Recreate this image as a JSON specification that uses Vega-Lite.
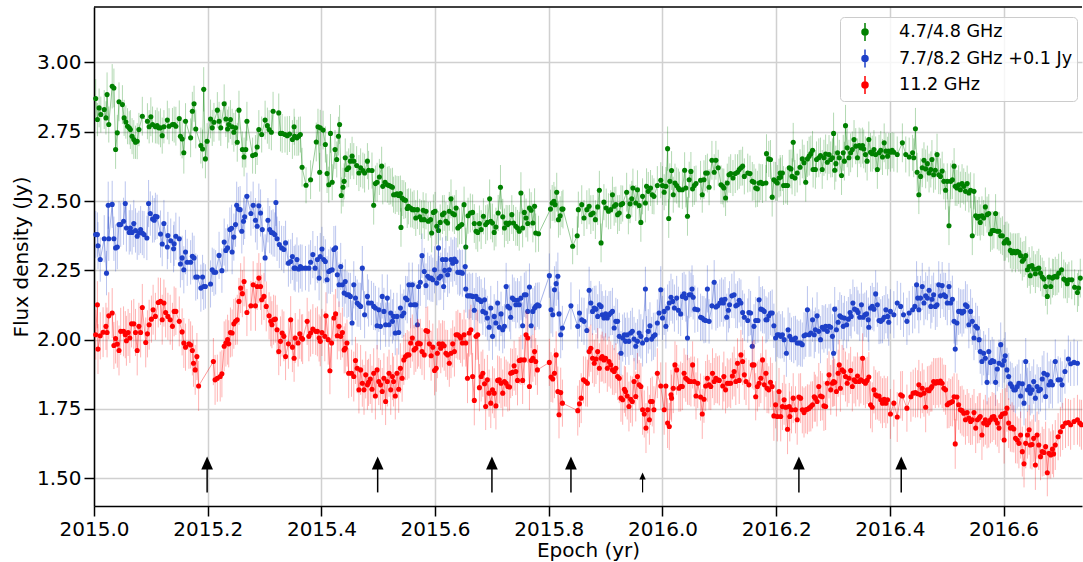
{
"$schema":"https://vega.github.io/schema/vega-lite/v6.json",
"width":988,"height":499,
"autosize":{"type":"none"},
"padding":{"left":94,"top":7,"right":1,"bottom":56},
"background":"white",
"config":{
 "font":"DejaVu Sans",
 "view":{"stroke":null},
 "axis":{"labelFont":"DejaVu Sans","titleFont":"DejaVu Sans","labelFontSize":20,"titleFontSize":20,"titleFontWeight":"normal","labelColor":"black","titleColor":"black","tickColor":"black","domainColor":"black","tickSize":10,"tickWidth":1.5,"domainWidth":1.5,"gridColor":"#d0d0d0","gridWidth":1.5,"labelPadding":3,"labelFlush":false,"labelOverlap":false}
},
"datasets":{
"g":[{"t":2015.003,"y":2.87,"e":0.07},{"t":2015.006,"y":2.794,"e":0.06},{"t":2015.009,"y":2.836,"e":0.07},{"t":2015.012,"y":2.812,"e":0.065},{"t":2015.018,"y":2.83,"e":0.07},{"t":2015.021,"y":2.8,"e":0.06},{"t":2015.023,"y":2.884,"e":0.08},{"t":2015.026,"y":2.776,"e":0.065},{"t":2015.032,"y":2.914,"e":0.08},{"t":2015.035,"y":2.908,"e":0.07},{"t":2015.038,"y":2.686,"e":0.07},{"t":2015.041,"y":2.746,"e":0.065},{"t":2015.044,"y":2.858,"e":0.07},{"t":2015.05,"y":2.848,"e":0.07},{"t":2015.053,"y":2.8,"e":0.065},{"t":2015.056,"y":2.785,"e":0.06},{"t":2015.059,"y":2.77,"e":0.065},{"t":2015.062,"y":2.764,"e":0.06},{"t":2015.064,"y":2.758,"e":0.07},{"t":2015.067,"y":2.734,"e":0.065},{"t":2015.07,"y":2.722,"e":0.07},{"t":2015.073,"y":2.712,"e":0.06},{"t":2015.076,"y":2.716,"e":0.065},{"t":2015.079,"y":2.758,"e":0.06},{"t":2015.085,"y":2.806,"e":0.07},{"t":2015.094,"y":2.788,"e":0.065},{"t":2015.097,"y":2.768,"e":0.06},{"t":2015.1,"y":2.804,"e":0.07},{"t":2015.103,"y":2.776,"e":0.065},{"t":2015.108,"y":2.768,"e":0.06},{"t":2015.111,"y":2.772,"e":0.065},{"t":2015.114,"y":2.764,"e":0.06},{"t":2015.117,"y":2.764,"e":0.07},{"t":2015.12,"y":2.736,"e":0.065},{"t":2015.123,"y":2.768,"e":0.06},{"t":2015.129,"y":2.792,"e":0.07},{"t":2015.132,"y":2.77,"e":0.065},{"t":2015.138,"y":2.776,"e":0.06},{"t":2015.141,"y":2.776,"e":0.065},{"t":2015.144,"y":2.77,"e":0.07},{"t":2015.15,"y":2.798,"e":0.065},{"t":2015.152,"y":2.734,"e":0.07},{"t":2015.155,"y":2.724,"e":0.07},{"t":2015.158,"y":2.674,"e":0.075},{"t":2015.161,"y":2.788,"e":0.065},{"t":2015.17,"y":2.728,"e":0.07},{"t":2015.173,"y":2.824,"e":0.07},{"t":2015.176,"y":2.851,"e":0.065},{"t":2015.179,"y":2.76,"e":0.07},{"t":2015.188,"y":2.7,"e":0.065},{"t":2015.191,"y":2.688,"e":0.07},{"t":2015.193,"y":2.903,"e":0.08},{"t":2015.196,"y":2.652,"e":0.07},{"t":2015.199,"y":2.716,"e":0.065},{"t":2015.205,"y":2.796,"e":0.07},{"t":2015.208,"y":2.764,"e":0.065},{"t":2015.211,"y":2.784,"e":0.07},{"t":2015.217,"y":2.828,"e":0.065},{"t":2015.22,"y":2.788,"e":0.07},{"t":2015.223,"y":2.764,"e":0.065},{"t":2015.229,"y":2.851,"e":0.07},{"t":2015.232,"y":2.796,"e":0.065},{"t":2015.235,"y":2.76,"e":0.07},{"t":2015.237,"y":2.776,"e":0.065},{"t":2015.24,"y":2.794,"e":0.07},{"t":2015.243,"y":2.768,"e":0.065},{"t":2015.246,"y":2.748,"e":0.07},{"t":2015.249,"y":2.764,"e":0.065},{"t":2015.252,"y":2.712,"e":0.07},{"t":2015.255,"y":2.828,"e":0.07},{"t":2015.261,"y":2.686,"e":0.065},{"t":2015.264,"y":2.659,"e":0.07},{"t":2015.267,"y":2.686,"e":0.065},{"t":2015.269,"y":2.788,"e":0.07},{"t":2015.279,"y":2.664,"e":0.065},{"t":2015.284,"y":2.668,"e":0.07},{"t":2015.287,"y":2.695,"e":0.065},
{"t":2015.29,"y":2.758,"e":0.07},{"t":2015.295,"y":2.74,"e":0.065},{"t":2015.301,"y":2.792,"e":0.07},{"t":2015.305,"y":2.772,"e":0.065},{"t":2015.308,"y":2.758,"e":0.07},{"t":2015.312,"y":2.748,"e":0.065},{"t":2015.315,"y":2.824,"e":0.07},{"t":2015.325,"y":2.818,"e":0.07},{"t":2015.328,"y":2.744,"e":0.065},{"t":2015.331,"y":2.744,"e":0.07},{"t":2015.336,"y":2.74,"e":0.065},{"t":2015.34,"y":2.736,"e":0.07},{"t":2015.344,"y":2.742,"e":0.065},{"t":2015.349,"y":2.722,"e":0.07},{"t":2015.352,"y":2.768,"e":0.065},{"t":2015.353,"y":2.734,"e":0.07},{"t":2015.357,"y":2.728,"e":0.065},{"t":2015.36,"y":2.734,"e":0.07},{"t":2015.363,"y":2.74,"e":0.065},{"t":2015.366,"y":2.622,"e":0.07},{"t":2015.373,"y":2.557,"e":0.065},{"t":2015.381,"y":2.577,"e":0.07},{"t":2015.391,"y":2.713,"e":0.07},{"t":2015.394,"y":2.768,"e":0.065},{"t":2015.397,"y":2.604,"e":0.07},{"t":2015.398,"y":2.764,"e":0.065},{"t":2015.403,"y":2.756,"e":0.07},{"t":2015.407,"y":2.704,"e":0.065},{"t":2015.41,"y":2.599,"e":0.07},{"t":2015.413,"y":2.559,"e":0.065},{"t":2015.416,"y":2.744,"e":0.07},{"t":2015.419,"y":2.568,"e":0.065},{"t":2015.424,"y":2.686,"e":0.07},{"t":2015.427,"y":2.65,"e":0.065},{"t":2015.43,"y":2.734,"e":0.07},{"t":2015.432,"y":2.776,"e":0.07},{"t":2015.435,"y":2.52,"e":0.065},{"t":2015.438,"y":2.55,"e":0.07},{"t":2015.44,"y":2.571,"e":0.065},{"t":2015.442,"y":2.656,"e":0.07},{"t":2015.445,"y":2.614,"e":0.065},{"t":2015.448,"y":2.62,"e":0.07},{"t":2015.451,"y":2.644,"e":0.065},{"t":2015.454,"y":2.662,"e":0.07},{"t":2015.457,"y":2.644,"e":0.065},{"t":2015.462,"y":2.628,"e":0.07},{"t":2015.466,"y":2.601,"e":0.065},{"t":2015.469,"y":2.62,"e":0.07},{"t":2015.473,"y":2.61,"e":0.065},{"t":2015.476,"y":2.601,"e":0.07},{"t":2015.481,"y":2.644,"e":0.065},{"t":2015.483,"y":2.611,"e":0.07},{"t":2015.489,"y":2.61,"e":0.065},{"t":2015.492,"y":2.485,"e":0.07},{"t":2015.495,"y":2.563,"e":0.065},{"t":2015.498,"y":2.568,"e":0.07},{"t":2015.502,"y":2.587,"e":0.065},{"t":2015.506,"y":2.626,"e":0.07},{"t":2015.508,"y":2.553,"e":0.065},{"t":2015.512,"y":2.568,"e":0.07},{"t":2015.516,"y":2.559,"e":0.065},{"t":2015.519,"y":2.556,"e":0.07},{"t":2015.522,"y":2.553,"e":0.065},{"t":2015.525,"y":2.55,"e":0.07},{"t":2015.527,"y":2.523,"e":0.065},{"t":2015.53,"y":2.523,"e":0.07},{"t":2015.533,"y":2.526,"e":0.065},{"t":2015.536,"y":2.52,"e":0.07},{"t":2015.539,"y":2.527,"e":0.065},{"t":2015.54,"y":2.405,"e":0.07},{"t":2015.542,"y":2.511,"e":0.065},{"t":2015.545,"y":2.505,"e":0.07},{"t":2015.548,"y":2.503,"e":0.065},{"t":2015.551,"y":2.473,"e":0.07},{"t":2015.553,"y":2.481,"e":0.065},{"t":2015.557,"y":2.475,"e":0.07},{"t":2015.56,"y":2.469,"e":0.065},{"t":2015.563,"y":2.469,"e":0.07},{"t":2015.566,"y":2.439,"e":0.065},{"t":2015.569,"y":2.469,"e":0.07},{"t":2015.573,"y":2.443,"e":0.065},{"t":2015.576,"y":2.433,"e":0.07},{"t":2015.579,"y":2.467,"e":0.065},
{"t":2015.581,"y":2.433,"e":0.07},{"t":2015.584,"y":2.463,"e":0.065},{"t":2015.588,"y":2.427,"e":0.07},{"t":2015.592,"y":2.433,"e":0.065},{"t":2015.594,"y":2.385,"e":0.07},{"t":2015.597,"y":2.459,"e":0.065},{"t":2015.6,"y":2.463,"e":0.07},{"t":2015.603,"y":2.409,"e":0.065},{"t":2015.606,"y":2.394,"e":0.07},{"t":2015.609,"y":2.423,"e":0.065},{"t":2015.613,"y":2.451,"e":0.07},{"t":2015.616,"y":2.457,"e":0.065},{"t":2015.619,"y":2.427,"e":0.07},{"t":2015.622,"y":2.421,"e":0.065},{"t":2015.625,"y":2.463,"e":0.07},{"t":2015.628,"y":2.508,"e":0.07},{"t":2015.631,"y":2.455,"e":0.065},{"t":2015.634,"y":2.451,"e":0.07},{"t":2015.637,"y":2.475,"e":0.065},{"t":2015.64,"y":2.403,"e":0.07},{"t":2015.643,"y":2.409,"e":0.065},{"t":2015.647,"y":2.415,"e":0.07},{"t":2015.651,"y":2.487,"e":0.065},{"t":2015.654,"y":2.334,"e":0.07},{"t":2015.658,"y":2.447,"e":0.065},{"t":2015.662,"y":2.457,"e":0.07},{"t":2015.666,"y":2.459,"e":0.065},{"t":2015.669,"y":2.419,"e":0.07},{"t":2015.672,"y":2.391,"e":0.065},{"t":2015.675,"y":2.387,"e":0.07},{"t":2015.678,"y":2.419,"e":0.065},{"t":2015.681,"y":2.397,"e":0.07},{"t":2015.685,"y":2.445,"e":0.065},{"t":2015.689,"y":2.415,"e":0.07},{"t":2015.692,"y":2.423,"e":0.065},{"t":2015.696,"y":2.508,"e":0.07},{"t":2015.698,"y":2.427,"e":0.065},{"t":2015.701,"y":2.421,"e":0.07},{"t":2015.704,"y":2.387,"e":0.065},{"t":2015.707,"y":2.406,"e":0.07},{"t":2015.711,"y":2.457,"e":0.065},{"t":2015.715,"y":2.55,"e":0.08},{"t":2015.719,"y":2.443,"e":0.065},{"t":2015.722,"y":2.403,"e":0.07},{"t":2015.725,"y":2.421,"e":0.065},{"t":2015.728,"y":2.415,"e":0.07},{"t":2015.731,"y":2.421,"e":0.065},{"t":2015.735,"y":2.451,"e":0.07},{"t":2015.738,"y":2.421,"e":0.065},{"t":2015.742,"y":2.409,"e":0.07},{"t":2015.745,"y":2.403,"e":0.065},{"t":2015.748,"y":2.391,"e":0.07},{"t":2015.751,"y":2.529,"e":0.075},{"t":2015.754,"y":2.403,"e":0.07},{"t":2015.757,"y":2.459,"e":0.065},{"t":2015.76,"y":2.439,"e":0.07},{"t":2015.763,"y":2.419,"e":0.065},{"t":2015.766,"y":2.475,"e":0.07},{"t":2015.769,"y":2.467,"e":0.065},{"t":2015.772,"y":2.421,"e":0.07},{"t":2015.775,"y":2.481,"e":0.065},{"t":2015.777,"y":2.385,"e":0.07},{"t":2015.782,"y":2.382,"e":0.065},{"t":2015.803,"y":2.471,"e":0.07},{"t":2015.806,"y":2.493,"e":0.065},{"t":2015.809,"y":2.499,"e":0.07},{"t":2015.811,"y":2.487,"e":0.065},{"t":2015.814,"y":2.532,"e":0.07},{"t":2015.817,"y":2.433,"e":0.065},{"t":2015.82,"y":2.447,"e":0.07},{"t":2015.823,"y":2.471,"e":0.065},{"t":2015.825,"y":2.471,"e":0.07},{"t":2015.842,"y":2.337,"e":0.065},{"t":2015.85,"y":2.375,"e":0.07},{"t":2015.852,"y":2.469,"e":0.065},{"t":2015.858,"y":2.487,"e":0.07},{"t":2015.862,"y":2.439,"e":0.065},{"t":2015.867,"y":2.469,"e":0.07},
{"t":2015.871,"y":2.481,"e":0.065},{"t":2015.874,"y":2.451,"e":0.07},{"t":2015.878,"y":2.457,"e":0.065},{"t":2015.882,"y":2.433,"e":0.07},{"t":2015.886,"y":2.479,"e":0.065},{"t":2015.889,"y":2.539,"e":0.07},{"t":2015.892,"y":2.349,"e":0.07},{"t":2015.897,"y":2.496,"e":0.065},{"t":2015.901,"y":2.475,"e":0.07},{"t":2015.905,"y":2.463,"e":0.065},{"t":2015.909,"y":2.469,"e":0.07},{"t":2015.912,"y":2.523,"e":0.065},{"t":2015.915,"y":2.481,"e":0.07},{"t":2015.918,"y":2.487,"e":0.065},{"t":2015.921,"y":2.451,"e":0.07},{"t":2015.924,"y":2.457,"e":0.065},{"t":2015.927,"y":2.487,"e":0.07},{"t":2015.93,"y":2.491,"e":0.065},{"t":2015.937,"y":2.532,"e":0.07},{"t":2015.94,"y":2.445,"e":0.065},{"t":2015.943,"y":2.49,"e":0.07},{"t":2015.946,"y":2.508,"e":0.065},{"t":2015.948,"y":2.547,"e":0.07},{"t":2015.953,"y":2.493,"e":0.065},{"t":2015.956,"y":2.541,"e":0.07},{"t":2015.959,"y":2.484,"e":0.065},{"t":2015.962,"y":2.423,"e":0.07},{"t":2015.965,"y":2.517,"e":0.065},{"t":2015.97,"y":2.493,"e":0.07},{"t":2015.972,"y":2.553,"e":0.065},{"t":2015.975,"y":2.535,"e":0.07},{"t":2015.979,"y":2.547,"e":0.065},{"t":2015.982,"y":2.523,"e":0.07},{"t":2015.985,"y":2.517,"e":0.065},{"t":2015.991,"y":2.556,"e":0.07},{"t":2015.997,"y":2.575,"e":0.065},{"t":2016.0,"y":2.556,"e":0.07},{"t":2016.003,"y":2.532,"e":0.065},{"t":2016.006,"y":2.553,"e":0.07},{"t":2016.009,"y":2.689,"e":0.08},{"t":2016.011,"y":2.437,"e":0.07},{"t":2016.013,"y":2.571,"e":0.065},{"t":2016.016,"y":2.61,"e":0.07},{"t":2016.019,"y":2.523,"e":0.065},{"t":2016.022,"y":2.565,"e":0.07},{"t":2016.025,"y":2.556,"e":0.065},{"t":2016.028,"y":2.547,"e":0.07},{"t":2016.03,"y":2.541,"e":0.065},{"t":2016.035,"y":2.541,"e":0.07},{"t":2016.039,"y":2.611,"e":0.065},{"t":2016.041,"y":2.547,"e":0.07},{"t":2016.044,"y":2.445,"e":0.07},{"t":2016.047,"y":2.577,"e":0.065},{"t":2016.05,"y":2.607,"e":0.07},{"t":2016.053,"y":2.544,"e":0.065},{"t":2016.056,"y":2.556,"e":0.07},{"t":2016.059,"y":2.563,"e":0.065},{"t":2016.067,"y":2.575,"e":0.07},{"t":2016.07,"y":2.523,"e":0.065},{"t":2016.073,"y":2.577,"e":0.07},{"t":2016.076,"y":2.601,"e":0.065},{"t":2016.079,"y":2.601,"e":0.07},{"t":2016.082,"y":2.55,"e":0.065},{"t":2016.087,"y":2.647,"e":0.07},{"t":2016.091,"y":2.604,"e":0.065},{"t":2016.094,"y":2.647,"e":0.07},{"t":2016.098,"y":2.62,"e":0.065},{"t":2016.103,"y":2.559,"e":0.07},{"t":2016.106,"y":2.553,"e":0.065},{"t":2016.108,"y":2.547,"e":0.07},{"t":2016.111,"y":2.511,"e":0.065},{"t":2016.114,"y":2.565,"e":0.07},{"t":2016.117,"y":2.595,"e":0.065},{"t":2016.12,"y":2.599,"e":0.07},{"t":2016.124,"y":2.583,"e":0.065},{"t":2016.128,"y":2.599,"e":0.07},{"t":2016.132,"y":2.604,"e":0.065},{"t":2016.135,"y":2.614,"e":0.07},{"t":2016.138,"y":2.62,"e":0.065},{"t":2016.141,"y":2.626,"e":0.07},{"t":2016.144,"y":2.589,"e":0.065},{"t":2016.15,"y":2.601,"e":0.07},{"t":2016.154,"y":2.599,"e":0.065},{"t":2016.158,"y":2.571,"e":0.07},
{"t":2016.161,"y":2.568,"e":0.065},{"t":2016.164,"y":2.547,"e":0.07},{"t":2016.167,"y":2.544,"e":0.065},{"t":2016.17,"y":2.565,"e":0.07},{"t":2016.173,"y":2.568,"e":0.065},{"t":2016.176,"y":2.563,"e":0.07},{"t":2016.182,"y":2.565,"e":0.065},{"t":2016.183,"y":2.671,"e":0.07},{"t":2016.187,"y":2.652,"e":0.065},{"t":2016.19,"y":2.65,"e":0.07},{"t":2016.193,"y":2.514,"e":0.07},{"t":2016.196,"y":2.577,"e":0.065},{"t":2016.199,"y":2.571,"e":0.07},{"t":2016.202,"y":2.565,"e":0.065},{"t":2016.205,"y":2.583,"e":0.07},{"t":2016.207,"y":2.601,"e":0.065},{"t":2016.208,"y":2.587,"e":0.07},{"t":2016.211,"y":2.601,"e":0.065},{"t":2016.213,"y":2.556,"e":0.07},{"t":2016.217,"y":2.556,"e":0.065},{"t":2016.22,"y":2.556,"e":0.07},{"t":2016.223,"y":2.62,"e":0.065},{"t":2016.226,"y":2.616,"e":0.07},{"t":2016.228,"y":2.589,"e":0.065},{"t":2016.23,"y":2.712,"e":0.07},{"t":2016.233,"y":2.583,"e":0.065},{"t":2016.237,"y":2.601,"e":0.07},{"t":2016.242,"y":2.622,"e":0.065},{"t":2016.246,"y":2.652,"e":0.07},{"t":2016.249,"y":2.638,"e":0.065},{"t":2016.252,"y":2.568,"e":0.07},{"t":2016.255,"y":2.652,"e":0.065},{"t":2016.258,"y":2.662,"e":0.07},{"t":2016.261,"y":2.671,"e":0.065},{"t":2016.264,"y":2.683,"e":0.07},{"t":2016.265,"y":2.614,"e":0.065},{"t":2016.269,"y":2.614,"e":0.07},{"t":2016.271,"y":2.65,"e":0.065},{"t":2016.275,"y":2.656,"e":0.07},{"t":2016.278,"y":2.664,"e":0.065},{"t":2016.281,"y":2.614,"e":0.07},{"t":2016.284,"y":2.656,"e":0.065},{"t":2016.287,"y":2.67,"e":0.07},{"t":2016.29,"y":2.64,"e":0.065},{"t":2016.293,"y":2.668,"e":0.07},{"t":2016.296,"y":2.65,"e":0.065},{"t":2016.299,"y":2.656,"e":0.07},{"t":2016.301,"y":2.744,"e":0.075},{"t":2016.303,"y":2.611,"e":0.07},{"t":2016.305,"y":2.635,"e":0.065},{"t":2016.308,"y":2.674,"e":0.07},{"t":2016.311,"y":2.656,"e":0.065},{"t":2016.315,"y":2.592,"e":0.07},{"t":2016.318,"y":2.674,"e":0.065},{"t":2016.32,"y":2.644,"e":0.07},{"t":2016.322,"y":2.772,"e":0.075},{"t":2016.325,"y":2.692,"e":0.07},{"t":2016.328,"y":2.656,"e":0.065},{"t":2016.331,"y":2.674,"e":0.07},{"t":2016.334,"y":2.686,"e":0.065},{"t":2016.337,"y":2.722,"e":0.07},{"t":2016.34,"y":2.698,"e":0.065},{"t":2016.343,"y":2.656,"e":0.07},{"t":2016.346,"y":2.7,"e":0.065},{"t":2016.349,"y":2.692,"e":0.07},{"t":2016.352,"y":2.7,"e":0.065},{"t":2016.354,"y":2.688,"e":0.07},{"t":2016.357,"y":2.668,"e":0.065},{"t":2016.36,"y":2.644,"e":0.07},{"t":2016.363,"y":2.722,"e":0.065},{"t":2016.366,"y":2.676,"e":0.07},{"t":2016.369,"y":2.671,"e":0.065},{"t":2016.372,"y":2.686,"e":0.07},{"t":2016.375,"y":2.668,"e":0.065},{"t":2016.378,"y":2.614,"e":0.07},{"t":2016.381,"y":2.674,"e":0.065},{"t":2016.384,"y":2.683,"e":0.07},{"t":2016.387,"y":2.659,"e":0.065},{"t":2016.39,"y":2.71,"e":0.07},{"t":2016.393,"y":2.68,"e":0.065},{"t":2016.396,"y":2.662,"e":0.07},{"t":2016.398,"y":2.68,"e":0.065},{"t":2016.401,"y":2.676,"e":0.07},{"t":2016.404,"y":2.683,"e":0.065},{"t":2016.407,"y":2.676,"e":0.07},{"t":2016.413,"y":2.668,"e":0.065},{"t":2016.422,"y":2.71,"e":0.07},{"t":2016.428,"y":2.668,"e":0.065},{"t":2016.434,"y":2.659,"e":0.07},{"t":2016.44,"y":2.674,"e":0.065},{"t":2016.442,"y":2.656,"e":0.07},{"t":2016.445,"y":2.761,"e":0.075},{"t":2016.448,"y":2.604,"e":0.07},
{"t":2016.451,"y":2.523,"e":0.07},{"t":2016.454,"y":2.589,"e":0.065},{"t":2016.457,"y":2.62,"e":0.07},{"t":2016.46,"y":2.647,"e":0.065},{"t":2016.463,"y":2.616,"e":0.07},{"t":2016.466,"y":2.635,"e":0.065},{"t":2016.469,"y":2.601,"e":0.07},{"t":2016.472,"y":2.614,"e":0.065},{"t":2016.474,"y":2.65,"e":0.07},{"t":2016.477,"y":2.595,"e":0.065},{"t":2016.48,"y":2.611,"e":0.07},{"t":2016.483,"y":2.668,"e":0.075},{"t":2016.486,"y":2.595,"e":0.07},{"t":2016.489,"y":2.589,"e":0.065},{"t":2016.492,"y":2.608,"e":0.07},{"t":2016.495,"y":2.571,"e":0.065},{"t":2016.498,"y":2.539,"e":0.07},{"t":2016.501,"y":2.571,"e":0.065},{"t":2016.504,"y":2.411,"e":0.07},{"t":2016.507,"y":2.571,"e":0.065},{"t":2016.51,"y":2.577,"e":0.07},{"t":2016.513,"y":2.626,"e":0.065},{"t":2016.515,"y":2.553,"e":0.07},{"t":2016.518,"y":2.547,"e":0.065},{"t":2016.521,"y":2.559,"e":0.07},{"t":2016.524,"y":2.541,"e":0.065},{"t":2016.527,"y":2.563,"e":0.07},{"t":2016.53,"y":2.553,"e":0.065},{"t":2016.533,"y":2.535,"e":0.07},{"t":2016.536,"y":2.563,"e":0.065},{"t":2016.539,"y":2.529,"e":0.07},{"t":2016.542,"y":2.539,"e":0.065},{"t":2016.545,"y":2.375,"e":0.07},{"t":2016.548,"y":2.535,"e":0.065},{"t":2016.551,"y":2.447,"e":0.07},{"t":2016.554,"y":2.439,"e":0.065},{"t":2016.557,"y":2.445,"e":0.07},{"t":2016.559,"y":2.423,"e":0.065},{"t":2016.562,"y":2.447,"e":0.07},{"t":2016.565,"y":2.439,"e":0.065},{"t":2016.568,"y":2.479,"e":0.07},{"t":2016.571,"y":2.451,"e":0.065},{"t":2016.574,"y":2.455,"e":0.07},{"t":2016.577,"y":2.382,"e":0.065},{"t":2016.58,"y":2.394,"e":0.07},{"t":2016.583,"y":2.394,"e":0.065},{"t":2016.586,"y":2.455,"e":0.07},{"t":2016.589,"y":2.391,"e":0.065},{"t":2016.592,"y":2.391,"e":0.07},{"t":2016.595,"y":2.375,"e":0.065},{"t":2016.598,"y":2.375,"e":0.07},{"t":2016.601,"y":2.349,"e":0.065},{"t":2016.603,"y":2.355,"e":0.07},{"t":2016.606,"y":2.361,"e":0.065},{"t":2016.609,"y":2.349,"e":0.07},{"t":2016.612,"y":2.322,"e":0.065},{"t":2016.615,"y":2.313,"e":0.07},{"t":2016.618,"y":2.319,"e":0.065},{"t":2016.621,"y":2.313,"e":0.07},{"t":2016.624,"y":2.319,"e":0.065},{"t":2016.627,"y":2.315,"e":0.07},{"t":2016.63,"y":2.303,"e":0.065},{"t":2016.633,"y":2.283,"e":0.07},{"t":2016.636,"y":2.291,"e":0.065},{"t":2016.639,"y":2.303,"e":0.07},{"t":2016.642,"y":2.252,"e":0.065},{"t":2016.645,"y":2.264,"e":0.07},{"t":2016.647,"y":2.231,"e":0.065},{"t":2016.65,"y":2.267,"e":0.07},{"t":2016.653,"y":2.255,"e":0.065},{"t":2016.656,"y":2.238,"e":0.07},{"t":2016.659,"y":2.255,"e":0.065},{"t":2016.662,"y":2.258,"e":0.07},{"t":2016.665,"y":2.24,"e":0.065},{"t":2016.668,"y":2.226,"e":0.07},{"t":2016.671,"y":2.219,"e":0.065},{"t":2016.674,"y":2.192,"e":0.07},{"t":2016.677,"y":2.156,"e":0.065},{"t":2016.68,"y":2.226,"e":0.07},{"t":2016.683,"y":2.192,"e":0.065},{"t":2016.686,"y":2.222,"e":0.07},{"t":2016.688,"y":2.226,"e":0.065},{"t":2016.691,"y":2.229,"e":0.07},{"t":2016.694,"y":2.226,"e":0.065},{"t":2016.697,"y":2.24,"e":0.07},{"t":2016.702,"y":2.252,"e":0.065},{"t":2016.706,"y":2.219,"e":0.07},{"t":2016.709,"y":2.214,"e":0.065},{"t":2016.712,"y":2.202,"e":0.07},{"t":2016.715,"y":2.216,"e":0.065},{"t":2016.72,"y":2.216,"e":0.07},{"t":2016.725,"y":2.189,"e":0.065},{"t":2016.73,"y":2.17,"e":0.07},{"t":2016.732,"y":2.186,"e":0.065},{"t":2016.735,"y":2.222,"e":0.07}],
"b":[{"t":2015.003,"y":2.379,"e":0.085},{"t":2015.006,"y":2.379,"e":0.08},{"t":2015.007,"y":2.339,"e":0.085},{"t":2015.011,"y":2.289,"e":0.08},{"t":2015.018,"y":2.364,"e":0.085},{"t":2015.022,"y":2.24,"e":0.08},{"t":2015.025,"y":2.485,"e":0.085},{"t":2015.026,"y":2.364,"e":0.08},{"t":2015.032,"y":2.488,"e":0.085},{"t":2015.035,"y":2.364,"e":0.08},{"t":2015.038,"y":2.331,"e":0.085},{"t":2015.041,"y":2.334,"e":0.08},{"t":2015.044,"y":2.415,"e":0.085},{"t":2015.047,"y":2.415,"e":0.08},{"t":2015.052,"y":2.427,"e":0.085},{"t":2015.055,"y":2.491,"e":0.08},{"t":2015.057,"y":2.403,"e":0.085},{"t":2015.062,"y":2.387,"e":0.08},{"t":2015.064,"y":2.403,"e":0.085},{"t":2015.067,"y":2.387,"e":0.08},{"t":2015.07,"y":2.419,"e":0.085},{"t":2015.073,"y":2.394,"e":0.08},{"t":2015.076,"y":2.373,"e":0.085},{"t":2015.079,"y":2.385,"e":0.08},{"t":2015.082,"y":2.397,"e":0.085},{"t":2015.085,"y":2.385,"e":0.08},{"t":2015.088,"y":2.379,"e":0.085},{"t":2015.093,"y":2.367,"e":0.08},{"t":2015.096,"y":2.491,"e":0.085},{"t":2015.099,"y":2.455,"e":0.08},{"t":2015.103,"y":2.435,"e":0.085},{"t":2015.106,"y":2.431,"e":0.08},{"t":2015.108,"y":2.445,"e":0.085},{"t":2015.111,"y":2.443,"e":0.08},{"t":2015.117,"y":2.381,"e":0.085},{"t":2015.12,"y":2.345,"e":0.08},{"t":2015.123,"y":2.419,"e":0.085},{"t":2015.129,"y":2.334,"e":0.08},{"t":2015.13,"y":2.376,"e":0.085},{"t":2015.135,"y":2.357,"e":0.08},{"t":2015.14,"y":2.328,"e":0.085},{"t":2015.141,"y":2.346,"e":0.08},{"t":2015.144,"y":2.373,"e":0.085},{"t":2015.15,"y":2.364,"e":0.08},{"t":2015.152,"y":2.273,"e":0.085},{"t":2015.155,"y":2.295,"e":0.08},{"t":2015.158,"y":2.252,"e":0.085},{"t":2015.161,"y":2.316,"e":0.08},{"t":2015.164,"y":2.279,"e":0.085},{"t":2015.17,"y":2.279,"e":0.08},{"t":2015.173,"y":2.301,"e":0.085},{"t":2015.176,"y":2.295,"e":0.08},{"t":2015.179,"y":2.226,"e":0.085},{"t":2015.182,"y":2.226,"e":0.08},{"t":2015.188,"y":2.186,"e":0.085},{"t":2015.191,"y":2.226,"e":0.08},{"t":2015.193,"y":2.192,"e":0.085},{"t":2015.196,"y":2.192,"e":0.08},{"t":2015.205,"y":2.201,"e":0.085},{"t":2015.208,"y":2.252,"e":0.08},{"t":2015.211,"y":2.243,"e":0.085},{"t":2015.214,"y":2.243,"e":0.08},{"t":2015.22,"y":2.304,"e":0.085},{"t":2015.225,"y":2.249,"e":0.08},{"t":2015.229,"y":2.352,"e":0.085},{"t":2015.232,"y":2.322,"e":0.08},{"t":2015.235,"y":2.331,"e":0.085},{"t":2015.239,"y":2.397,"e":0.08},{"t":2015.242,"y":2.402,"e":0.085},{"t":2015.243,"y":2.316,"e":0.08},{"t":2015.246,"y":2.37,"e":0.085},{"t":2015.249,"y":2.415,"e":0.08},{"t":2015.251,"y":2.485,"e":0.085},{"t":2015.254,"y":2.471,"e":0.08},{"t":2015.257,"y":2.469,"e":0.085},{"t":2015.26,"y":2.391,"e":0.08},{"t":2015.263,"y":2.427,"e":0.085},{"t":2015.265,"y":2.443,"e":0.08},{"t":2015.269,"y":2.517,"e":0.085},{"t":2015.276,"y":2.455,"e":0.08},{"t":2015.28,"y":2.485,"e":0.085},{"t":2015.284,"y":2.431,"e":0.08},{"t":2015.287,"y":2.409,"e":0.085},
{"t":2015.29,"y":2.483,"e":0.08},{"t":2015.293,"y":2.457,"e":0.085},{"t":2015.296,"y":2.397,"e":0.08},{"t":2015.301,"y":2.295,"e":0.085},{"t":2015.306,"y":2.431,"e":0.08},{"t":2015.309,"y":2.397,"e":0.085},{"t":2015.312,"y":2.387,"e":0.08},{"t":2015.315,"y":2.385,"e":0.085},{"t":2015.318,"y":2.379,"e":0.08},{"t":2015.32,"y":2.495,"e":0.085},{"t":2015.322,"y":2.364,"e":0.08},{"t":2015.326,"y":2.343,"e":0.085},{"t":2015.33,"y":2.331,"e":0.08},{"t":2015.334,"y":2.325,"e":0.085},{"t":2015.337,"y":2.349,"e":0.08},{"t":2015.342,"y":2.276,"e":0.085},{"t":2015.346,"y":2.282,"e":0.08},{"t":2015.349,"y":2.3,"e":0.085},{"t":2015.352,"y":2.258,"e":0.08},{"t":2015.354,"y":2.258,"e":0.085},{"t":2015.357,"y":2.289,"e":0.08},{"t":2015.36,"y":2.255,"e":0.085},{"t":2015.363,"y":2.264,"e":0.08},{"t":2015.366,"y":2.258,"e":0.085},{"t":2015.372,"y":2.258,"e":0.08},{"t":2015.378,"y":2.258,"e":0.085},{"t":2015.381,"y":2.279,"e":0.08},{"t":2015.385,"y":2.307,"e":0.085},{"t":2015.389,"y":2.258,"e":0.08},{"t":2015.393,"y":2.289,"e":0.085},{"t":2015.396,"y":2.222,"e":0.08},{"t":2015.398,"y":2.3,"e":0.085},{"t":2015.401,"y":2.327,"e":0.08},{"t":2015.404,"y":2.289,"e":0.085},{"t":2015.407,"y":2.282,"e":0.08},{"t":2015.41,"y":2.216,"e":0.085},{"t":2015.413,"y":2.246,"e":0.08},{"t":2015.416,"y":2.25,"e":0.085},{"t":2015.419,"y":2.252,"e":0.08},{"t":2015.422,"y":2.325,"e":0.085},{"t":2015.425,"y":2.331,"e":0.08},{"t":2015.428,"y":2.234,"e":0.085},{"t":2015.431,"y":2.198,"e":0.08},{"t":2015.434,"y":2.264,"e":0.085},{"t":2015.437,"y":2.198,"e":0.08},{"t":2015.44,"y":2.168,"e":0.085},{"t":2015.442,"y":2.21,"e":0.08},{"t":2015.445,"y":2.162,"e":0.085},{"t":2015.448,"y":2.162,"e":0.08},{"t":2015.451,"y":2.156,"e":0.085},{"t":2015.454,"y":2.06,"e":0.08},{"t":2015.457,"y":2.198,"e":0.085},{"t":2015.46,"y":2.15,"e":0.08},{"t":2015.463,"y":2.132,"e":0.085},{"t":2015.466,"y":2.126,"e":0.08},{"t":2015.469,"y":2.12,"e":0.085},{"t":2015.472,"y":2.258,"e":0.08},{"t":2015.476,"y":2.09,"e":0.085},{"t":2015.481,"y":2.156,"e":0.08},{"t":2015.483,"y":2.132,"e":0.085},{"t":2015.488,"y":2.132,"e":0.08},{"t":2015.492,"y":2.12,"e":0.085},{"t":2015.495,"y":2.114,"e":0.08},{"t":2015.498,"y":2.05,"e":0.085},{"t":2015.501,"y":2.108,"e":0.08},{"t":2015.504,"y":2.048,"e":0.085},{"t":2015.507,"y":2.156,"e":0.08},{"t":2015.51,"y":2.102,"e":0.085},{"t":2015.513,"y":2.054,"e":0.08},{"t":2015.516,"y":2.15,"e":0.085},{"t":2015.519,"y":2.054,"e":0.08},{"t":2015.522,"y":2.096,"e":0.085},{"t":2015.525,"y":2.066,"e":0.08},{"t":2015.527,"y":2.084,"e":0.085},{"t":2015.53,"y":2.024,"e":0.08},{"t":2015.533,"y":2.084,"e":0.085},{"t":2015.536,"y":2.026,"e":0.08},{"t":2015.539,"y":2.114,"e":0.085},{"t":2015.542,"y":2.086,"e":0.08},{"t":2015.545,"y":2.096,"e":0.085},{"t":2015.548,"y":2.15,"e":0.08},{"t":2015.551,"y":2.144,"e":0.085},{"t":2015.554,"y":2.198,"e":0.08},{"t":2015.557,"y":2.126,"e":0.085},{"t":2015.56,"y":2.198,"e":0.08},{"t":2015.563,"y":2.126,"e":0.085},{"t":2015.566,"y":2.126,"e":0.08},{"t":2015.569,"y":2.054,"e":0.085},{"t":2015.571,"y":2.192,"e":0.08},{"t":2015.574,"y":2.207,"e":0.085},{"t":2015.577,"y":2.303,"e":0.08},
{"t":2015.581,"y":2.246,"e":0.085},{"t":2015.584,"y":2.195,"e":0.08},{"t":2015.587,"y":2.229,"e":0.085},{"t":2015.59,"y":2.222,"e":0.08},{"t":2015.593,"y":2.222,"e":0.085},{"t":2015.596,"y":2.216,"e":0.08},{"t":2015.599,"y":2.252,"e":0.085},{"t":2015.603,"y":2.204,"e":0.08},{"t":2015.606,"y":2.331,"e":0.085},{"t":2015.607,"y":2.222,"e":0.08},{"t":2015.61,"y":2.229,"e":0.085},{"t":2015.613,"y":2.289,"e":0.08},{"t":2015.615,"y":2.192,"e":0.085},{"t":2015.617,"y":2.25,"e":0.08},{"t":2015.619,"y":2.289,"e":0.085},{"t":2015.622,"y":2.234,"e":0.08},{"t":2015.625,"y":2.252,"e":0.085},{"t":2015.628,"y":2.289,"e":0.08},{"t":2015.631,"y":2.276,"e":0.085},{"t":2015.634,"y":2.291,"e":0.08},{"t":2015.637,"y":2.282,"e":0.085},{"t":2015.64,"y":2.243,"e":0.08},{"t":2015.643,"y":2.243,"e":0.085},{"t":2015.645,"y":2.243,"e":0.08},{"t":2015.648,"y":2.24,"e":0.085},{"t":2015.653,"y":2.264,"e":0.08},{"t":2015.654,"y":2.183,"e":0.085},{"t":2015.657,"y":2.158,"e":0.08},{"t":2015.66,"y":2.158,"e":0.085},{"t":2015.663,"y":2.158,"e":0.08},{"t":2015.666,"y":2.156,"e":0.085},{"t":2015.669,"y":2.106,"e":0.08},{"t":2015.672,"y":2.156,"e":0.085},{"t":2015.675,"y":2.146,"e":0.08},{"t":2015.678,"y":2.144,"e":0.085},{"t":2015.681,"y":2.138,"e":0.08},{"t":2015.684,"y":2.102,"e":0.085},{"t":2015.687,"y":2.144,"e":0.08},{"t":2015.689,"y":2.096,"e":0.085},{"t":2015.692,"y":2.078,"e":0.08},{"t":2015.695,"y":2.045,"e":0.085},{"t":2015.698,"y":2.114,"e":0.08},{"t":2015.701,"y":2.012,"e":0.085},{"t":2015.704,"y":2.084,"e":0.08},{"t":2015.707,"y":2.06,"e":0.085},{"t":2015.71,"y":2.132,"e":0.08},{"t":2015.713,"y":2.045,"e":0.085},{"t":2015.716,"y":2.093,"e":0.08},{"t":2015.719,"y":2.036,"e":0.085},{"t":2015.722,"y":2.048,"e":0.08},{"t":2015.725,"y":2.192,"e":0.085},{"t":2015.728,"y":2.12,"e":0.08},{"t":2015.731,"y":2.114,"e":0.085},{"t":2015.733,"y":2.081,"e":0.08},{"t":2015.736,"y":2.15,"e":0.085},{"t":2015.739,"y":2.144,"e":0.08},{"t":2015.742,"y":2.126,"e":0.085},{"t":2015.745,"y":2.142,"e":0.08},{"t":2015.748,"y":2.126,"e":0.085},{"t":2015.751,"y":2.15,"e":0.08},{"t":2015.754,"y":2.05,"e":0.085},{"t":2015.757,"y":2.162,"e":0.08},{"t":2015.76,"y":2.162,"e":0.085},{"t":2015.763,"y":2.102,"e":0.08},{"t":2015.766,"y":2.19,"e":0.085},{"t":2015.769,"y":2.05,"e":0.08},{"t":2015.772,"y":2.102,"e":0.085},{"t":2015.775,"y":2.114,"e":0.08},{"t":2015.777,"y":2.12,"e":0.085},{"t":2015.78,"y":2.126,"e":0.08},{"t":2015.783,"y":2.122,"e":0.085},{"t":2015.801,"y":2.231,"e":0.08},{"t":2015.804,"y":2.108,"e":0.085},{"t":2015.807,"y":2.09,"e":0.08},{"t":2015.81,"y":2.18,"e":0.085},{"t":2015.813,"y":2.202,"e":0.08},{"t":2015.816,"y":2.229,"e":0.085},{"t":2015.818,"y":2.093,"e":0.08},{"t":2015.821,"y":2.018,"e":0.085},{"t":2015.824,"y":2.042,"e":0.08},{"t":2015.839,"y":2.122,"e":0.085},{"t":2015.851,"y":2.048,"e":0.08},{"t":2015.854,"y":2.096,"e":0.085},{"t":2015.858,"y":2.072,"e":0.08},{"t":2015.862,"y":2.066,"e":0.085},{"t":2015.867,"y":2.033,"e":0.08},
{"t":2015.871,"y":2.178,"e":0.085},{"t":2015.874,"y":2.132,"e":0.08},{"t":2015.877,"y":2.102,"e":0.085},{"t":2015.88,"y":2.114,"e":0.08},{"t":2015.883,"y":2.11,"e":0.085},{"t":2015.886,"y":2.084,"e":0.08},{"t":2015.889,"y":2.126,"e":0.085},{"t":2015.892,"y":2.12,"e":0.08},{"t":2015.894,"y":2.09,"e":0.085},{"t":2015.897,"y":2.078,"e":0.08},{"t":2015.9,"y":2.093,"e":0.085},{"t":2015.903,"y":2.078,"e":0.08},{"t":2015.906,"y":2.09,"e":0.085},{"t":2015.909,"y":2.096,"e":0.08},{"t":2015.912,"y":2.102,"e":0.085},{"t":2015.915,"y":2.042,"e":0.08},{"t":2015.918,"y":2.066,"e":0.085},{"t":2015.921,"y":2.066,"e":0.08},{"t":2015.924,"y":2.012,"e":0.085},{"t":2015.927,"y":1.951,"e":0.08},{"t":2015.93,"y":2.006,"e":0.085},{"t":2015.933,"y":2.018,"e":0.08},{"t":2015.935,"y":1.994,"e":0.085},{"t":2015.938,"y":2.018,"e":0.08},{"t":2015.941,"y":1.994,"e":0.085},{"t":2015.944,"y":2.024,"e":0.08},{"t":2015.947,"y":2.03,"e":0.085},{"t":2015.95,"y":2.002,"e":0.08},{"t":2015.953,"y":1.976,"e":0.085},{"t":2015.956,"y":1.994,"e":0.08},{"t":2015.959,"y":2.024,"e":0.085},{"t":2015.962,"y":2.012,"e":0.08},{"t":2015.965,"y":1.988,"e":0.085},{"t":2015.97,"y":2.183,"e":0.08},{"t":2015.972,"y":2.0,"e":0.085},{"t":2015.975,"y":2.03,"e":0.08},{"t":2015.978,"y":2.05,"e":0.085},{"t":2015.981,"y":2.002,"e":0.08},{"t":2015.984,"y":2.012,"e":0.085},{"t":2015.987,"y":2.018,"e":0.08},{"t":2015.991,"y":2.06,"e":0.085},{"t":2015.994,"y":2.096,"e":0.08},{"t":2015.997,"y":2.18,"e":0.085},{"t":2016.0,"y":2.078,"e":0.08},{"t":2016.003,"y":2.102,"e":0.085},{"t":2016.006,"y":2.048,"e":0.08},{"t":2016.009,"y":2.114,"e":0.085},{"t":2016.012,"y":2.132,"e":0.08},{"t":2016.015,"y":2.153,"e":0.085},{"t":2016.018,"y":2.138,"e":0.08},{"t":2016.021,"y":2.114,"e":0.085},{"t":2016.025,"y":2.15,"e":0.08},{"t":2016.028,"y":2.106,"e":0.085},{"t":2016.032,"y":2.093,"e":0.08},{"t":2016.035,"y":2.156,"e":0.085},{"t":2016.038,"y":2.165,"e":0.08},{"t":2016.041,"y":2.15,"e":0.085},{"t":2016.044,"y":2.006,"e":0.08},{"t":2016.047,"y":2.162,"e":0.085},{"t":2016.05,"y":2.162,"e":0.08},{"t":2016.052,"y":2.183,"e":0.085},{"t":2016.054,"y":2.153,"e":0.08},{"t":2016.057,"y":2.11,"e":0.085},{"t":2016.062,"y":2.108,"e":0.08},{"t":2016.067,"y":2.081,"e":0.085},{"t":2016.07,"y":2.078,"e":0.08},{"t":2016.073,"y":2.072,"e":0.085},{"t":2016.076,"y":2.069,"e":0.08},{"t":2016.079,"y":2.183,"e":0.085},{"t":2016.082,"y":2.066,"e":0.08},{"t":2016.087,"y":2.122,"e":0.085},{"t":2016.091,"y":2.207,"e":0.08},{"t":2016.094,"y":2.118,"e":0.085},{"t":2016.097,"y":2.122,"e":0.08},{"t":2016.101,"y":2.132,"e":0.085},{"t":2016.104,"y":2.144,"e":0.08},{"t":2016.107,"y":2.132,"e":0.085},{"t":2016.11,"y":2.146,"e":0.08},{"t":2016.113,"y":2.081,"e":0.085},{"t":2016.116,"y":2.106,"e":0.08},{"t":2016.118,"y":2.126,"e":0.085},{"t":2016.122,"y":2.158,"e":0.08},{"t":2016.126,"y":2.162,"e":0.085},{"t":2016.129,"y":2.122,"e":0.08},{"t":2016.132,"y":2.126,"e":0.085},{"t":2016.135,"y":2.142,"e":0.08},{"t":2016.138,"y":2.132,"e":0.085},{"t":2016.141,"y":2.098,"e":0.08},{"t":2016.144,"y":2.081,"e":0.085},{"t":2016.15,"y":2.069,"e":0.08},{"t":2016.152,"y":2.098,"e":0.085},{"t":2016.155,"y":2.096,"e":0.08},{"t":2016.158,"y":1.976,"e":0.085},
{"t":2016.161,"y":2.048,"e":0.08},{"t":2016.164,"y":2.069,"e":0.085},{"t":2016.168,"y":2.069,"e":0.08},{"t":2016.17,"y":2.144,"e":0.085},{"t":2016.173,"y":2.11,"e":0.08},{"t":2016.176,"y":2.108,"e":0.085},{"t":2016.179,"y":2.102,"e":0.08},{"t":2016.182,"y":2.072,"e":0.085},{"t":2016.184,"y":2.072,"e":0.08},{"t":2016.187,"y":2.086,"e":0.085},{"t":2016.19,"y":2.096,"e":0.08},{"t":2016.193,"y":2.096,"e":0.085},{"t":2016.196,"y":2.05,"e":0.08},{"t":2016.199,"y":2.006,"e":0.085},{"t":2016.202,"y":2.018,"e":0.08},{"t":2016.205,"y":2.018,"e":0.085},{"t":2016.208,"y":2.012,"e":0.08},{"t":2016.211,"y":2.018,"e":0.085},{"t":2016.214,"y":2.0,"e":0.08},{"t":2016.218,"y":1.951,"e":0.085},{"t":2016.221,"y":2.036,"e":0.08},{"t":2016.224,"y":2.012,"e":0.085},{"t":2016.227,"y":2.0,"e":0.08},{"t":2016.231,"y":2.0,"e":0.085},{"t":2016.234,"y":2.006,"e":0.08},{"t":2016.237,"y":1.988,"e":0.085},{"t":2016.24,"y":1.988,"e":0.08},{"t":2016.243,"y":1.988,"e":0.085},{"t":2016.246,"y":1.982,"e":0.08},{"t":2016.249,"y":2.014,"e":0.085},{"t":2016.252,"y":2.018,"e":0.08},{"t":2016.255,"y":2.108,"e":0.085},{"t":2016.258,"y":2.018,"e":0.08},{"t":2016.261,"y":2.024,"e":0.085},{"t":2016.264,"y":2.072,"e":0.08},{"t":2016.267,"y":2.018,"e":0.085},{"t":2016.269,"y":2.036,"e":0.08},{"t":2016.272,"y":2.086,"e":0.085},{"t":2016.275,"y":2.03,"e":0.08},{"t":2016.278,"y":2.0,"e":0.085},{"t":2016.281,"y":2.045,"e":0.08},{"t":2016.284,"y":2.038,"e":0.085},{"t":2016.287,"y":2.048,"e":0.08},{"t":2016.29,"y":2.03,"e":0.085},{"t":2016.293,"y":2.048,"e":0.08},{"t":2016.296,"y":2.045,"e":0.085},{"t":2016.299,"y":2.012,"e":0.08},{"t":2016.301,"y":1.951,"e":0.085},{"t":2016.303,"y":2.11,"e":0.08},{"t":2016.306,"y":2.036,"e":0.085},{"t":2016.309,"y":2.063,"e":0.08},{"t":2016.312,"y":2.086,"e":0.085},{"t":2016.315,"y":2.081,"e":0.08},{"t":2016.318,"y":2.048,"e":0.085},{"t":2016.32,"y":2.078,"e":0.08},{"t":2016.324,"y":2.054,"e":0.085},{"t":2016.327,"y":2.074,"e":0.08},{"t":2016.33,"y":2.098,"e":0.085},{"t":2016.332,"y":2.084,"e":0.08},{"t":2016.335,"y":2.132,"e":0.085},{"t":2016.338,"y":2.11,"e":0.08},{"t":2016.342,"y":2.106,"e":0.085},{"t":2016.344,"y":2.098,"e":0.08},{"t":2016.347,"y":2.081,"e":0.085},{"t":2016.35,"y":2.126,"e":0.08},{"t":2016.353,"y":2.081,"e":0.085},{"t":2016.356,"y":2.09,"e":0.08},{"t":2016.359,"y":2.093,"e":0.085},{"t":2016.362,"y":2.072,"e":0.08},{"t":2016.363,"y":2.045,"e":0.085},{"t":2016.366,"y":2.114,"e":0.08},{"t":2016.369,"y":2.12,"e":0.085},{"t":2016.372,"y":2.11,"e":0.08},{"t":2016.375,"y":2.165,"e":0.085},{"t":2016.378,"y":2.126,"e":0.08},{"t":2016.381,"y":2.069,"e":0.085},{"t":2016.384,"y":2.066,"e":0.08},{"t":2016.387,"y":2.072,"e":0.085},{"t":2016.39,"y":2.081,"e":0.08},{"t":2016.393,"y":2.108,"e":0.085},{"t":2016.396,"y":2.084,"e":0.08},{"t":2016.398,"y":2.063,"e":0.085},{"t":2016.401,"y":2.102,"e":0.08},{"t":2016.407,"y":2.09,"e":0.085},{"t":2016.413,"y":2.132,"e":0.08},{"t":2016.419,"y":2.12,"e":0.085},{"t":2016.424,"y":2.09,"e":0.08},{"t":2016.43,"y":2.066,"e":0.085},{"t":2016.434,"y":2.096,"e":0.08},{"t":2016.44,"y":2.108,"e":0.085},{"t":2016.444,"y":2.12,"e":0.08},{"t":2016.447,"y":2.198,"e":0.085},{"t":2016.449,"y":2.15,"e":0.08},
{"t":2016.451,"y":2.108,"e":0.085},{"t":2016.454,"y":2.15,"e":0.08},{"t":2016.457,"y":2.192,"e":0.085},{"t":2016.46,"y":2.132,"e":0.08},{"t":2016.463,"y":2.158,"e":0.085},{"t":2016.466,"y":2.15,"e":0.08},{"t":2016.469,"y":2.178,"e":0.085},{"t":2016.472,"y":2.12,"e":0.08},{"t":2016.474,"y":2.146,"e":0.085},{"t":2016.477,"y":2.162,"e":0.08},{"t":2016.48,"y":2.12,"e":0.085},{"t":2016.483,"y":2.126,"e":0.08},{"t":2016.486,"y":2.198,"e":0.085},{"t":2016.489,"y":2.158,"e":0.08},{"t":2016.492,"y":2.195,"e":0.085},{"t":2016.495,"y":2.162,"e":0.08},{"t":2016.498,"y":2.156,"e":0.085},{"t":2016.501,"y":2.132,"e":0.08},{"t":2016.504,"y":2.192,"e":0.085},{"t":2016.507,"y":2.132,"e":0.08},{"t":2016.51,"y":2.146,"e":0.085},{"t":2016.513,"y":2.066,"e":0.08},{"t":2016.515,"y":1.966,"e":0.085},{"t":2016.518,"y":2.06,"e":0.08},{"t":2016.521,"y":2.102,"e":0.085},{"t":2016.524,"y":2.102,"e":0.08},{"t":2016.527,"y":2.096,"e":0.085},{"t":2016.53,"y":2.102,"e":0.08},{"t":2016.533,"y":2.126,"e":0.085},{"t":2016.536,"y":2.12,"e":0.08},{"t":2016.539,"y":2.054,"e":0.085},{"t":2016.542,"y":2.102,"e":0.08},{"t":2016.545,"y":2.066,"e":0.085},{"t":2016.548,"y":2.006,"e":0.08},{"t":2016.551,"y":2.048,"e":0.085},{"t":2016.554,"y":2.042,"e":0.08},{"t":2016.557,"y":2.0,"e":0.085},{"t":2016.559,"y":1.957,"e":0.08},{"t":2016.562,"y":1.921,"e":0.085},{"t":2016.565,"y":1.951,"e":0.08},{"t":2016.568,"y":1.933,"e":0.085},{"t":2016.571,"y":1.846,"e":0.08},{"t":2016.574,"y":1.957,"e":0.085},{"t":2016.577,"y":1.918,"e":0.08},{"t":2016.58,"y":1.925,"e":0.085},{"t":2016.583,"y":1.921,"e":0.08},{"t":2016.586,"y":1.846,"e":0.085},{"t":2016.589,"y":1.894,"e":0.08},{"t":2016.592,"y":1.915,"e":0.085},{"t":2016.595,"y":1.982,"e":0.08},{"t":2016.598,"y":1.909,"e":0.085},{"t":2016.601,"y":1.925,"e":0.08},{"t":2016.603,"y":1.942,"e":0.085},{"t":2016.606,"y":1.891,"e":0.08},{"t":2016.609,"y":1.867,"e":0.085},{"t":2016.612,"y":1.841,"e":0.08},{"t":2016.615,"y":1.831,"e":0.085},{"t":2016.618,"y":1.819,"e":0.08},{"t":2016.621,"y":1.819,"e":0.085},{"t":2016.624,"y":1.831,"e":0.08},{"t":2016.627,"y":1.843,"e":0.085},{"t":2016.63,"y":1.797,"e":0.08},{"t":2016.633,"y":1.841,"e":0.085},{"t":2016.636,"y":1.771,"e":0.08},{"t":2016.639,"y":1.921,"e":0.085},{"t":2016.642,"y":1.819,"e":0.08},{"t":2016.645,"y":1.831,"e":0.085},{"t":2016.647,"y":1.807,"e":0.08},{"t":2016.65,"y":1.819,"e":0.085},{"t":2016.653,"y":1.849,"e":0.08},{"t":2016.656,"y":1.789,"e":0.085},{"t":2016.659,"y":1.831,"e":0.08},{"t":2016.662,"y":1.816,"e":0.085},{"t":2016.665,"y":1.821,"e":0.08},{"t":2016.668,"y":1.858,"e":0.085},{"t":2016.671,"y":1.879,"e":0.08},{"t":2016.674,"y":1.795,"e":0.085},{"t":2016.677,"y":1.873,"e":0.08},{"t":2016.68,"y":1.837,"e":0.085},{"t":2016.683,"y":1.849,"e":0.08},{"t":2016.686,"y":1.837,"e":0.085},{"t":2016.691,"y":1.921,"e":0.08},{"t":2016.696,"y":1.855,"e":0.085},{"t":2016.7,"y":1.855,"e":0.08},{"t":2016.703,"y":1.837,"e":0.085},{"t":2016.708,"y":1.885,"e":0.08},{"t":2016.714,"y":1.93,"e":0.085},{"t":2016.718,"y":1.913,"e":0.08},{"t":2016.724,"y":1.918,"e":0.085},{"t":2016.73,"y":1.915,"e":0.08}],
"r":[{"t":2015.003,"y":2.018,"e":0.09},{"t":2015.006,"y":2.126,"e":0.085},{"t":2015.007,"y":1.966,"e":0.09},{"t":2015.011,"y":2.014,"e":0.085},{"t":2015.016,"y":2.027,"e":0.09},{"t":2015.021,"y":2.048,"e":0.085},{"t":2015.023,"y":2.026,"e":0.09},{"t":2015.026,"y":2.086,"e":0.085},{"t":2015.032,"y":2.096,"e":0.09},{"t":2015.035,"y":1.979,"e":0.085},{"t":2015.038,"y":2.004,"e":0.09},{"t":2015.041,"y":1.984,"e":0.085},{"t":2015.044,"y":1.961,"e":0.09},{"t":2015.047,"y":2.03,"e":0.085},{"t":2015.052,"y":2.03,"e":0.09},{"t":2015.055,"y":2.018,"e":0.085},{"t":2015.057,"y":1.996,"e":0.09},{"t":2015.06,"y":2.026,"e":0.085},{"t":2015.063,"y":2.006,"e":0.09},{"t":2015.066,"y":2.057,"e":0.085},{"t":2015.07,"y":2.057,"e":0.09},{"t":2015.073,"y":2.026,"e":0.085},{"t":2015.076,"y":1.961,"e":0.09},{"t":2015.079,"y":2.048,"e":0.085},{"t":2015.082,"y":2.026,"e":0.09},{"t":2015.085,"y":2.116,"e":0.085},{"t":2015.091,"y":1.99,"e":0.09},{"t":2015.094,"y":2.021,"e":0.085},{"t":2015.097,"y":2.054,"e":0.09},{"t":2015.101,"y":2.074,"e":0.085},{"t":2015.104,"y":2.108,"e":0.09},{"t":2015.108,"y":2.084,"e":0.085},{"t":2015.113,"y":2.134,"e":0.09},{"t":2015.117,"y":2.138,"e":0.085},{"t":2015.12,"y":2.072,"e":0.09},{"t":2015.123,"y":2.132,"e":0.085},{"t":2015.126,"y":2.098,"e":0.09},{"t":2015.13,"y":2.084,"e":0.085},{"t":2015.134,"y":2.072,"e":0.09},{"t":2015.138,"y":2.048,"e":0.085},{"t":2015.141,"y":2.102,"e":0.09},{"t":2015.144,"y":2.102,"e":0.085},{"t":2015.15,"y":2.066,"e":0.09},{"t":2015.155,"y":2.028,"e":0.085},{"t":2015.158,"y":1.988,"e":0.09},{"t":2015.161,"y":1.973,"e":0.085},{"t":2015.167,"y":1.985,"e":0.09},{"t":2015.17,"y":1.981,"e":0.085},{"t":2015.173,"y":1.961,"e":0.09},{"t":2015.175,"y":1.915,"e":0.085},{"t":2015.178,"y":1.891,"e":0.09},{"t":2015.181,"y":1.939,"e":0.085},{"t":2015.184,"y":1.833,"e":0.09},{"t":2015.21,"y":1.921,"e":0.085},{"t":2015.213,"y":1.855,"e":0.09},{"t":2015.217,"y":1.861,"e":0.085},{"t":2015.222,"y":1.867,"e":0.09},{"t":2015.225,"y":1.877,"e":0.085},{"t":2015.229,"y":1.976,"e":0.09},{"t":2015.232,"y":1.988,"e":0.085},{"t":2015.235,"y":2.0,"e":0.09},{"t":2015.237,"y":1.985,"e":0.085},{"t":2015.24,"y":2.026,"e":0.09},{"t":2015.243,"y":2.024,"e":0.085},{"t":2015.246,"y":2.057,"e":0.09},{"t":2015.249,"y":2.066,"e":0.085},{"t":2015.252,"y":2.072,"e":0.09},{"t":2015.255,"y":2.138,"e":0.085},{"t":2015.258,"y":2.186,"e":0.09},{"t":2015.261,"y":2.166,"e":0.085},{"t":2015.264,"y":2.21,"e":0.09},{"t":2015.269,"y":2.098,"e":0.085},{"t":2015.276,"y":2.122,"e":0.09},{"t":2015.28,"y":2.198,"e":0.085},{"t":2015.284,"y":2.122,"e":0.09},{"t":2015.287,"y":2.192,"e":0.085},
{"t":2015.29,"y":2.222,"e":0.09},{"t":2015.293,"y":2.192,"e":0.085},{"t":2015.295,"y":2.144,"e":0.09},{"t":2015.299,"y":2.156,"e":0.085},{"t":2015.303,"y":2.12,"e":0.09},{"t":2015.308,"y":2.086,"e":0.085},{"t":2015.311,"y":2.066,"e":0.09},{"t":2015.313,"y":2.054,"e":0.085},{"t":2015.316,"y":2.072,"e":0.09},{"t":2015.319,"y":2.074,"e":0.085},{"t":2015.322,"y":2.036,"e":0.09},{"t":2015.325,"y":1.957,"e":0.085},{"t":2015.328,"y":1.994,"e":0.09},{"t":2015.331,"y":2.024,"e":0.085},{"t":2015.334,"y":2.012,"e":0.09},{"t":2015.337,"y":1.939,"e":0.085},{"t":2015.342,"y":1.985,"e":0.09},{"t":2015.346,"y":2.072,"e":0.085},{"t":2015.349,"y":1.973,"e":0.09},{"t":2015.352,"y":1.933,"e":0.085},{"t":2015.354,"y":2.006,"e":0.09},{"t":2015.359,"y":1.988,"e":0.085},{"t":2015.362,"y":2.021,"e":0.09},{"t":2015.365,"y":2.006,"e":0.085},{"t":2015.367,"y":2.002,"e":0.09},{"t":2015.375,"y":2.066,"e":0.085},{"t":2015.378,"y":2.012,"e":0.09},{"t":2015.381,"y":2.024,"e":0.085},{"t":2015.385,"y":2.038,"e":0.09},{"t":2015.39,"y":2.03,"e":0.085},{"t":2015.393,"y":2.03,"e":0.09},{"t":2015.396,"y":2.006,"e":0.085},{"t":2015.398,"y":1.994,"e":0.09},{"t":2015.401,"y":2.026,"e":0.085},{"t":2015.406,"y":2.012,"e":0.09},{"t":2015.408,"y":2.086,"e":0.085},{"t":2015.412,"y":2.0,"e":0.09},{"t":2015.415,"y":1.888,"e":0.085},{"t":2015.418,"y":1.988,"e":0.09},{"t":2015.422,"y":2.078,"e":0.085},{"t":2015.425,"y":2.093,"e":0.09},{"t":2015.428,"y":2.014,"e":0.085},{"t":2015.431,"y":2.048,"e":0.09},{"t":2015.434,"y":2.012,"e":0.085},{"t":2015.437,"y":2.026,"e":0.09},{"t":2015.44,"y":1.963,"e":0.085},{"t":2015.442,"y":1.969,"e":0.09},{"t":2015.445,"y":1.988,"e":0.085},{"t":2015.448,"y":1.879,"e":0.09},{"t":2015.453,"y":1.879,"e":0.085},{"t":2015.457,"y":1.867,"e":0.09},{"t":2015.46,"y":1.925,"e":0.085},{"t":2015.463,"y":1.897,"e":0.09},{"t":2015.466,"y":1.819,"e":0.085},{"t":2015.469,"y":1.891,"e":0.09},{"t":2015.472,"y":1.843,"e":0.085},{"t":2015.475,"y":1.819,"e":0.09},{"t":2015.478,"y":1.873,"e":0.085},{"t":2015.481,"y":1.837,"e":0.09},{"t":2015.483,"y":1.846,"e":0.085},{"t":2015.486,"y":1.858,"e":0.09},{"t":2015.489,"y":1.821,"e":0.085},{"t":2015.492,"y":1.879,"e":0.09},{"t":2015.495,"y":1.797,"e":0.085},{"t":2015.498,"y":1.891,"e":0.09},{"t":2015.501,"y":1.849,"e":0.085},{"t":2015.504,"y":1.837,"e":0.09},{"t":2015.507,"y":1.813,"e":0.085},{"t":2015.51,"y":1.861,"e":0.09},{"t":2015.513,"y":1.777,"e":0.085},{"t":2015.516,"y":1.849,"e":0.09},{"t":2015.519,"y":1.879,"e":0.085},{"t":2015.522,"y":1.819,"e":0.09},{"t":2015.525,"y":1.867,"e":0.085},{"t":2015.527,"y":1.849,"e":0.09},{"t":2015.53,"y":1.797,"e":0.085},{"t":2015.533,"y":1.879,"e":0.09},{"t":2015.536,"y":1.821,"e":0.085},{"t":2015.539,"y":1.897,"e":0.09},{"t":2015.542,"y":1.861,"e":0.085},{"t":2015.545,"y":1.927,"e":0.09},{"t":2015.548,"y":1.939,"e":0.085},{"t":2015.551,"y":1.945,"e":0.09},{"t":2015.554,"y":1.945,"e":0.085},{"t":2015.557,"y":1.988,"e":0.09},{"t":2015.56,"y":2.006,"e":0.085},{"t":2015.563,"y":1.963,"e":0.09},{"t":2015.566,"y":1.969,"e":0.085},{"t":2015.569,"y":1.985,"e":0.09},{"t":2015.571,"y":1.988,"e":0.085},{"t":2015.574,"y":1.985,"e":0.09},{"t":2015.577,"y":1.957,"e":0.085},
{"t":2015.581,"y":1.945,"e":0.09},{"t":2015.584,"y":2.033,"e":0.085},{"t":2015.587,"y":2.03,"e":0.09},{"t":2015.59,"y":1.985,"e":0.085},{"t":2015.593,"y":1.942,"e":0.09},{"t":2015.596,"y":1.973,"e":0.085},{"t":2015.599,"y":1.889,"e":0.09},{"t":2015.602,"y":1.897,"e":0.085},{"t":2015.604,"y":1.951,"e":0.09},{"t":2015.607,"y":1.985,"e":0.085},{"t":2015.61,"y":1.969,"e":0.09},{"t":2015.613,"y":1.985,"e":0.085},{"t":2015.616,"y":1.978,"e":0.09},{"t":2015.619,"y":1.951,"e":0.085},{"t":2015.622,"y":1.945,"e":0.09},{"t":2015.625,"y":1.915,"e":0.085},{"t":2015.628,"y":1.951,"e":0.09},{"t":2015.631,"y":1.985,"e":0.085},{"t":2015.634,"y":1.957,"e":0.09},{"t":2015.637,"y":2.018,"e":0.085},{"t":2015.64,"y":2.018,"e":0.09},{"t":2015.643,"y":2.012,"e":0.085},{"t":2015.645,"y":2.006,"e":0.09},{"t":2015.648,"y":1.988,"e":0.085},{"t":2015.651,"y":2.018,"e":0.09},{"t":2015.654,"y":1.988,"e":0.085},{"t":2015.657,"y":1.861,"e":0.09},{"t":2015.66,"y":2.024,"e":0.085},{"t":2015.663,"y":2.036,"e":0.09},{"t":2015.666,"y":1.867,"e":0.085},{"t":2015.669,"y":1.781,"e":0.09},{"t":2015.672,"y":2.012,"e":0.085},{"t":2015.675,"y":2.018,"e":0.09},{"t":2015.678,"y":1.827,"e":0.085},{"t":2015.681,"y":1.867,"e":0.09},{"t":2015.684,"y":1.879,"e":0.085},{"t":2015.687,"y":1.841,"e":0.09},{"t":2015.689,"y":1.759,"e":0.085},{"t":2015.692,"y":1.855,"e":0.09},{"t":2015.695,"y":1.807,"e":0.085},{"t":2015.698,"y":1.771,"e":0.09},{"t":2015.701,"y":1.819,"e":0.085},{"t":2015.704,"y":1.807,"e":0.09},{"t":2015.707,"y":1.761,"e":0.085},{"t":2015.71,"y":1.853,"e":0.09},{"t":2015.713,"y":1.855,"e":0.085},{"t":2015.716,"y":1.843,"e":0.09},{"t":2015.719,"y":1.807,"e":0.085},{"t":2015.722,"y":1.849,"e":0.09},{"t":2015.725,"y":1.843,"e":0.085},{"t":2015.728,"y":1.831,"e":0.09},{"t":2015.731,"y":1.829,"e":0.085},{"t":2015.733,"y":1.879,"e":0.09},{"t":2015.736,"y":1.882,"e":0.085},{"t":2015.739,"y":1.906,"e":0.09},{"t":2015.742,"y":1.885,"e":0.085},{"t":2015.745,"y":1.853,"e":0.09},{"t":2015.748,"y":1.925,"e":0.085},{"t":2015.751,"y":1.927,"e":0.09},{"t":2015.754,"y":1.853,"e":0.085},{"t":2015.757,"y":1.927,"e":0.09},{"t":2015.76,"y":2.018,"e":0.085},{"t":2015.763,"y":2.006,"e":0.09},{"t":2015.766,"y":1.831,"e":0.085},{"t":2015.769,"y":1.925,"e":0.09},{"t":2015.772,"y":1.933,"e":0.085},{"t":2015.775,"y":1.957,"e":0.09},{"t":2015.777,"y":1.921,"e":0.085},{"t":2015.78,"y":1.891,"e":0.09},{"t":2015.801,"y":1.918,"e":0.085},{"t":2015.804,"y":1.865,"e":0.09},{"t":2015.807,"y":1.858,"e":0.085},{"t":2015.81,"y":1.879,"e":0.09},{"t":2015.813,"y":1.945,"e":0.085},{"t":2015.816,"y":1.813,"e":0.09},{"t":2015.818,"y":1.729,"e":0.085},{"t":2015.821,"y":1.809,"e":0.09},{"t":2015.824,"y":1.771,"e":0.085},{"t":2015.851,"y":1.744,"e":0.09},{"t":2015.854,"y":1.769,"e":0.085},{"t":2015.857,"y":1.789,"e":0.09},{"t":2015.861,"y":1.855,"e":0.085},{"t":2015.865,"y":1.849,"e":0.09},{"t":2015.868,"y":1.843,"e":0.085},
{"t":2015.871,"y":1.957,"e":0.09},{"t":2015.874,"y":1.969,"e":0.085},{"t":2015.877,"y":1.933,"e":0.09},{"t":2015.88,"y":1.915,"e":0.085},{"t":2015.883,"y":1.93,"e":0.09},{"t":2015.886,"y":1.957,"e":0.085},{"t":2015.889,"y":1.897,"e":0.09},{"t":2015.892,"y":1.933,"e":0.085},{"t":2015.894,"y":1.939,"e":0.09},{"t":2015.897,"y":1.927,"e":0.085},{"t":2015.9,"y":1.933,"e":0.09},{"t":2015.903,"y":1.897,"e":0.085},{"t":2015.906,"y":1.921,"e":0.09},{"t":2015.909,"y":1.909,"e":0.085},{"t":2015.912,"y":1.891,"e":0.09},{"t":2015.915,"y":1.885,"e":0.085},{"t":2015.918,"y":1.897,"e":0.09},{"t":2015.921,"y":1.867,"e":0.085},{"t":2015.924,"y":1.861,"e":0.09},{"t":2015.927,"y":1.789,"e":0.085},{"t":2015.93,"y":1.783,"e":0.09},{"t":2015.933,"y":1.821,"e":0.085},{"t":2015.935,"y":1.813,"e":0.09},{"t":2015.938,"y":1.797,"e":0.085},{"t":2015.941,"y":1.759,"e":0.09},{"t":2015.944,"y":1.785,"e":0.085},{"t":2015.947,"y":1.777,"e":0.09},{"t":2015.95,"y":1.849,"e":0.085},{"t":2015.953,"y":1.795,"e":0.09},{"t":2015.956,"y":1.867,"e":0.085},{"t":2015.959,"y":1.837,"e":0.09},{"t":2015.962,"y":1.831,"e":0.085},{"t":2015.965,"y":1.747,"e":0.09},{"t":2015.968,"y":1.732,"e":0.085},{"t":2015.971,"y":1.681,"e":0.09},{"t":2015.974,"y":1.747,"e":0.085},{"t":2015.977,"y":1.711,"e":0.09},{"t":2015.979,"y":1.777,"e":0.085},{"t":2015.982,"y":1.777,"e":0.09},{"t":2015.985,"y":1.747,"e":0.085},{"t":2015.991,"y":1.879,"e":0.09},{"t":2015.997,"y":1.833,"e":0.085},{"t":2016.003,"y":1.747,"e":0.09},{"t":2016.006,"y":1.833,"e":0.085},{"t":2016.009,"y":1.699,"e":0.09},{"t":2016.012,"y":1.687,"e":0.085},{"t":2016.015,"y":1.801,"e":0.09},{"t":2016.016,"y":1.789,"e":0.085},{"t":2016.019,"y":1.825,"e":0.09},{"t":2016.022,"y":1.909,"e":0.085},{"t":2016.025,"y":1.891,"e":0.09},{"t":2016.029,"y":1.825,"e":0.085},{"t":2016.032,"y":1.831,"e":0.09},{"t":2016.035,"y":1.831,"e":0.085},{"t":2016.038,"y":1.879,"e":0.09},{"t":2016.041,"y":1.861,"e":0.085},{"t":2016.044,"y":1.855,"e":0.09},{"t":2016.047,"y":1.849,"e":0.085},{"t":2016.05,"y":1.849,"e":0.09},{"t":2016.053,"y":1.909,"e":0.085},{"t":2016.056,"y":1.849,"e":0.09},{"t":2016.059,"y":1.797,"e":0.085},{"t":2016.062,"y":1.843,"e":0.09},{"t":2016.067,"y":1.793,"e":0.085},{"t":2016.07,"y":1.732,"e":0.09},{"t":2016.073,"y":1.785,"e":0.085},{"t":2016.076,"y":1.833,"e":0.09},{"t":2016.079,"y":1.861,"e":0.085},{"t":2016.082,"y":1.837,"e":0.09},{"t":2016.085,"y":1.831,"e":0.085},{"t":2016.088,"y":1.879,"e":0.09},{"t":2016.091,"y":1.849,"e":0.085},{"t":2016.094,"y":1.861,"e":0.09},{"t":2016.097,"y":1.855,"e":0.085},{"t":2016.1,"y":1.853,"e":0.09},{"t":2016.106,"y":1.833,"e":0.085},{"t":2016.108,"y":1.867,"e":0.09},{"t":2016.111,"y":1.819,"e":0.085},{"t":2016.114,"y":1.843,"e":0.09},{"t":2016.117,"y":1.843,"e":0.085},{"t":2016.12,"y":1.843,"e":0.09},{"t":2016.123,"y":1.869,"e":0.085},{"t":2016.126,"y":1.885,"e":0.09},{"t":2016.129,"y":1.849,"e":0.085},{"t":2016.132,"y":1.915,"e":0.09},{"t":2016.135,"y":1.853,"e":0.085},{"t":2016.138,"y":1.945,"e":0.09},{"t":2016.141,"y":1.921,"e":0.085},{"t":2016.144,"y":1.873,"e":0.09},{"t":2016.147,"y":1.849,"e":0.085},{"t":2016.152,"y":1.837,"e":0.09},{"t":2016.158,"y":1.909,"e":0.085},
{"t":2016.161,"y":1.909,"e":0.09},{"t":2016.164,"y":1.794,"e":0.085},{"t":2016.167,"y":1.831,"e":0.09},{"t":2016.17,"y":1.843,"e":0.085},{"t":2016.173,"y":1.861,"e":0.09},{"t":2016.176,"y":1.927,"e":0.085},{"t":2016.179,"y":1.837,"e":0.09},{"t":2016.182,"y":1.879,"e":0.085},{"t":2016.184,"y":1.825,"e":0.09},{"t":2016.187,"y":1.819,"e":0.085},{"t":2016.19,"y":1.846,"e":0.09},{"t":2016.193,"y":1.831,"e":0.085},{"t":2016.196,"y":1.725,"e":0.09},{"t":2016.199,"y":1.765,"e":0.085},{"t":2016.202,"y":1.723,"e":0.09},{"t":2016.205,"y":1.813,"e":0.085},{"t":2016.208,"y":1.723,"e":0.09},{"t":2016.211,"y":1.759,"e":0.085},{"t":2016.214,"y":1.783,"e":0.09},{"t":2016.217,"y":1.756,"e":0.085},{"t":2016.22,"y":1.677,"e":0.09},{"t":2016.223,"y":1.759,"e":0.085},{"t":2016.224,"y":1.723,"e":0.09},{"t":2016.227,"y":1.747,"e":0.085},{"t":2016.23,"y":1.789,"e":0.09},{"t":2016.234,"y":1.747,"e":0.085},{"t":2016.237,"y":1.711,"e":0.09},{"t":2016.24,"y":1.793,"e":0.085},{"t":2016.243,"y":1.789,"e":0.09},{"t":2016.246,"y":1.747,"e":0.085},{"t":2016.249,"y":1.737,"e":0.09},{"t":2016.252,"y":1.747,"e":0.085},{"t":2016.255,"y":1.749,"e":0.09},{"t":2016.258,"y":1.753,"e":0.085},{"t":2016.261,"y":1.759,"e":0.09},{"t":2016.264,"y":1.765,"e":0.085},{"t":2016.267,"y":1.794,"e":0.09},{"t":2016.269,"y":1.789,"e":0.085},{"t":2016.272,"y":1.777,"e":0.09},{"t":2016.275,"y":1.831,"e":0.085},{"t":2016.278,"y":1.797,"e":0.09},{"t":2016.281,"y":1.794,"e":0.085},{"t":2016.284,"y":1.761,"e":0.09},{"t":2016.287,"y":1.759,"e":0.085},{"t":2016.29,"y":1.843,"e":0.09},{"t":2016.293,"y":1.873,"e":0.085},{"t":2016.296,"y":1.819,"e":0.09},{"t":2016.299,"y":1.843,"e":0.085},{"t":2016.301,"y":1.849,"e":0.09},{"t":2016.303,"y":1.846,"e":0.085},{"t":2016.306,"y":1.813,"e":0.09},{"t":2016.309,"y":1.879,"e":0.085},{"t":2016.311,"y":1.909,"e":0.09},{"t":2016.313,"y":1.825,"e":0.085},{"t":2016.316,"y":1.891,"e":0.09},{"t":2016.319,"y":1.885,"e":0.085},{"t":2016.322,"y":1.867,"e":0.09},{"t":2016.325,"y":1.843,"e":0.085},{"t":2016.328,"y":1.861,"e":0.09},{"t":2016.331,"y":1.889,"e":0.085},{"t":2016.334,"y":1.831,"e":0.09},{"t":2016.337,"y":1.855,"e":0.085},{"t":2016.34,"y":1.849,"e":0.09},{"t":2016.343,"y":1.869,"e":0.085},{"t":2016.346,"y":1.849,"e":0.09},{"t":2016.349,"y":1.855,"e":0.085},{"t":2016.352,"y":1.933,"e":0.09},{"t":2016.354,"y":1.849,"e":0.085},{"t":2016.357,"y":1.843,"e":0.09},{"t":2016.36,"y":1.853,"e":0.085},{"t":2016.363,"y":1.865,"e":0.09},{"t":2016.366,"y":1.765,"e":0.085},{"t":2016.369,"y":1.756,"e":0.09},{"t":2016.372,"y":1.819,"e":0.085},{"t":2016.375,"y":1.801,"e":0.09},{"t":2016.378,"y":1.797,"e":0.085},{"t":2016.381,"y":1.797,"e":0.09},{"t":2016.384,"y":1.783,"e":0.085},{"t":2016.387,"y":1.771,"e":0.09},{"t":2016.39,"y":1.785,"e":0.085},{"t":2016.393,"y":1.771,"e":0.09},{"t":2016.396,"y":1.783,"e":0.085},{"t":2016.401,"y":1.732,"e":0.09},{"t":2016.407,"y":1.771,"e":0.085},{"t":2016.413,"y":1.721,"e":0.09},{"t":2016.419,"y":1.801,"e":0.085},{"t":2016.422,"y":1.797,"e":0.09},{"t":2016.43,"y":1.753,"e":0.085},{"t":2016.437,"y":1.794,"e":0.09},{"t":2016.441,"y":1.807,"e":0.085},{"t":2016.445,"y":1.809,"e":0.09},{"t":2016.449,"y":1.805,"e":0.085},
{"t":2016.451,"y":1.837,"e":0.09},{"t":2016.454,"y":1.801,"e":0.085},{"t":2016.457,"y":1.825,"e":0.09},{"t":2016.46,"y":1.807,"e":0.085},{"t":2016.463,"y":1.756,"e":0.09},{"t":2016.466,"y":1.819,"e":0.085},{"t":2016.469,"y":1.816,"e":0.09},{"t":2016.472,"y":1.825,"e":0.085},{"t":2016.474,"y":1.831,"e":0.09},{"t":2016.477,"y":1.849,"e":0.085},{"t":2016.48,"y":1.843,"e":0.09},{"t":2016.483,"y":1.849,"e":0.085},{"t":2016.486,"y":1.845,"e":0.09},{"t":2016.489,"y":1.851,"e":0.085},{"t":2016.492,"y":1.843,"e":0.09},{"t":2016.495,"y":1.825,"e":0.085},{"t":2016.498,"y":1.819,"e":0.09},{"t":2016.501,"y":1.765,"e":0.085},{"t":2016.504,"y":1.771,"e":0.09},{"t":2016.507,"y":1.773,"e":0.085},{"t":2016.51,"y":1.777,"e":0.09},{"t":2016.513,"y":1.794,"e":0.085},{"t":2016.515,"y":1.624,"e":0.09},{"t":2016.518,"y":1.793,"e":0.085},{"t":2016.521,"y":1.765,"e":0.09},{"t":2016.524,"y":1.747,"e":0.085},{"t":2016.527,"y":1.744,"e":0.09},{"t":2016.53,"y":1.735,"e":0.085},{"t":2016.533,"y":1.711,"e":0.09},{"t":2016.536,"y":1.737,"e":0.085},{"t":2016.539,"y":1.717,"e":0.09},{"t":2016.542,"y":1.705,"e":0.085},{"t":2016.545,"y":1.711,"e":0.09},{"t":2016.548,"y":1.737,"e":0.085},{"t":2016.551,"y":1.681,"e":0.09},{"t":2016.554,"y":1.711,"e":0.085},{"t":2016.557,"y":1.717,"e":0.09},{"t":2016.559,"y":1.723,"e":0.085},{"t":2016.562,"y":1.656,"e":0.09},{"t":2016.565,"y":1.699,"e":0.085},{"t":2016.568,"y":1.711,"e":0.09},{"t":2016.571,"y":1.693,"e":0.085},{"t":2016.574,"y":1.701,"e":0.09},{"t":2016.577,"y":1.711,"e":0.085},{"t":2016.58,"y":1.721,"e":0.09},{"t":2016.583,"y":1.723,"e":0.085},{"t":2016.586,"y":1.711,"e":0.09},{"t":2016.589,"y":1.699,"e":0.085},{"t":2016.592,"y":1.681,"e":0.09},{"t":2016.595,"y":1.723,"e":0.085},{"t":2016.598,"y":1.732,"e":0.09},{"t":2016.601,"y":1.638,"e":0.085},{"t":2016.603,"y":1.735,"e":0.09},{"t":2016.606,"y":1.753,"e":0.085},{"t":2016.609,"y":1.699,"e":0.09},{"t":2016.612,"y":1.681,"e":0.085},{"t":2016.615,"y":1.684,"e":0.09},{"t":2016.618,"y":1.678,"e":0.085},{"t":2016.621,"y":1.644,"e":0.09},{"t":2016.624,"y":1.638,"e":0.085},{"t":2016.627,"y":1.626,"e":0.09},{"t":2016.63,"y":1.656,"e":0.085},{"t":2016.633,"y":1.596,"e":0.09},{"t":2016.636,"y":1.552,"e":0.085},{"t":2016.639,"y":1.626,"e":0.09},{"t":2016.642,"y":1.656,"e":0.085},{"t":2016.645,"y":1.675,"e":0.09},{"t":2016.647,"y":1.62,"e":0.085},{"t":2016.65,"y":1.622,"e":0.09},{"t":2016.653,"y":1.644,"e":0.085},{"t":2016.656,"y":1.548,"e":0.09},{"t":2016.659,"y":1.656,"e":0.085},{"t":2016.662,"y":1.62,"e":0.09},{"t":2016.665,"y":1.578,"e":0.085},{"t":2016.668,"y":1.596,"e":0.09},{"t":2016.671,"y":1.593,"e":0.085},{"t":2016.674,"y":1.614,"e":0.09},{"t":2016.677,"y":1.52,"e":0.085},{"t":2016.68,"y":1.59,"e":0.09},{"t":2016.683,"y":1.584,"e":0.085},{"t":2016.686,"y":1.605,"e":0.09},{"t":2016.688,"y":1.588,"e":0.085},{"t":2016.691,"y":1.62,"e":0.09},{"t":2016.696,"y":1.65,"e":0.085},{"t":2016.7,"y":1.668,"e":0.09},{"t":2016.704,"y":1.687,"e":0.085},{"t":2016.709,"y":1.699,"e":0.09},{"t":2016.714,"y":1.701,"e":0.085},{"t":2016.718,"y":1.693,"e":0.09},{"t":2016.724,"y":1.705,"e":0.085},{"t":2016.73,"y":1.711,"e":0.09},{"t":2016.734,"y":1.699,"e":0.085},{"t":2016.737,"y":1.693,"e":0.09}],
"arrows":[{"t":2015.199,"k":"big"},{"t":2015.499,"k":"big"},{"t":2015.7,"k":"big"},{"t":2015.839,"k":"big"},{"t":2015.965,"k":"small"},{"t":2016.24,"k":"big"},{"t":2016.42,"k":"big"}]
},
"layer":[
 {"data":{"name":"g"},
  "encoding":{
   "x":{"field":"t","type":"quantitative","title":"Epoch (yr)","scale":{"domain":[2015.0,2016.738],"nice":false,"zero":false},"axis":{"values":[2015.0,2015.2,2015.4,2015.6,2015.8,2016.0,2016.2,2016.4,2016.6],"format":".1f","titlePadding":1}},
   "y":{"field":"y","type":"quantitative","title":"Flux density (Jy)","scale":{"domain":[1.4,3.2],"nice":false,"zero":false},"axis":{"values":[1.5,1.75,2.0,2.25,2.5,2.75,3.0],"format":".2f","titlePadding":5}},
   "color":{"datum":"4.7/4.8 GHz","type":"nominal","scale":{"domain":["4.7/4.8 GHz","7.7/8.2 GHz +0.1 Jy","11.2 GHz"],"range":["#008000","#1e40c8","#ff0000"]},
   "legend":{"title":null,"orient":"none","legendX":746,"legendY":10,"labelFontSize":17.6,"labelFont":"DejaVu Sans","labelColor":"black","padding":4,"rowPadding":2.5,"symbolSize":400,"symbolOffset":10,"symbolType":"M0,-0.9L0,0.9M0.3,0A0.3,0.3,0,1,1,-0.3,0A0.3,0.3,0,1,1,0.3,0Z","symbolStrokeWidth":1.5,"symbolOpacity":1,"labelOffset":23,"strokeColor":"#cccccc","fillColor":"rgba(255,255,255,0.8)","cornerRadius":4,"labelLimit":300,
    "encode":{"symbols":{"update":{"fill":{"scale":"color","field":"value"},"stroke":{"scale":"color","field":"value"},"opacity":{"value":1}}}}}}},
  "layer":[
   {"mark":{"type":"errorbar","opacity":0.3,"thickness":1},"encoding":{"yError":{"field":"e"}}},
   {"mark":{"type":"line","strokeWidth":0.8,"opacity":0.5}},
   {"mark":{"type":"point","filled":true,"size":26,"opacity":1}}
  ]},
 {"data":{"name":"b"},
  "encoding":{
   "x":{"field":"t","type":"quantitative","title":"Epoch (yr)","scale":{"domain":[2015.0,2016.738],"nice":false,"zero":false}},
   "y":{"field":"y","type":"quantitative","title":"Flux density (Jy)","scale":{"domain":[1.4,3.2],"nice":false,"zero":false}},
   "color":{"datum":"7.7/8.2 GHz +0.1 Jy","type":"nominal"}},
  "layer":[
   {"mark":{"type":"errorbar","opacity":0.3,"thickness":1},"encoding":{"yError":{"field":"e"}}},
   {"mark":{"type":"line","strokeWidth":0.8,"opacity":0.5}},
   {"mark":{"type":"point","filled":true,"size":26,"opacity":1}}
  ]},
 {"data":{"name":"r"},
  "encoding":{
   "x":{"field":"t","type":"quantitative","title":"Epoch (yr)","scale":{"domain":[2015.0,2016.738],"nice":false,"zero":false}},
   "y":{"field":"y","type":"quantitative","title":"Flux density (Jy)","scale":{"domain":[1.4,3.2],"nice":false,"zero":false}},
   "color":{"datum":"11.2 GHz","type":"nominal"}},
  "layer":[
   {"mark":{"type":"errorbar","opacity":0.3,"thickness":1},"encoding":{"yError":{"field":"e"}}},
   {"mark":{"type":"line","strokeWidth":0.8,"opacity":0.5}},
   {"mark":{"type":"point","filled":true,"size":26,"opacity":1}}
  ]},
 {"data":{"name":"arrows"},
  "encoding":{"x":{"field":"t","type":"quantitative","title":"Epoch (yr)","scale":{"domain":[2015.0,2016.738],"nice":false,"zero":false}}},
  "layer":[
   {"transform":[{"filter":"datum.k == 'big'"}],"mark":{"type":"rule","color":"black","strokeWidth":1.5},"encoding":{"y":{"datum":1.449,"type":"quantitative","title":"Flux density (Jy)"},"y2":{"datum":1.535}}},
   {"transform":[{"filter":"datum.k == 'big'"}],"mark":{"type":"point","shape":"M0,-1L0.9,1L-0.9,1Z","filled":true,"color":"black","opacity":1,"size":169},"encoding":{"y":{"datum":1.555,"type":"quantitative","title":"Flux density (Jy)"}}},
   {"transform":[{"filter":"datum.k == 'small'"}],"mark":{"type":"rule","color":"black","strokeWidth":1.2},"encoding":{"y":{"datum":1.449,"type":"quantitative","title":"Flux density (Jy)"},"y2":{"datum":1.498}}},
   {"transform":[{"filter":"datum.k == 'small'"}],"mark":{"type":"point","shape":"M0,-1L0.9,1L-0.9,1Z","filled":true,"color":"black","opacity":1,"size":49},"encoding":{"y":{"datum":1.508,"type":"quantitative","title":"Flux density (Jy)"}}}
  ]},
 {"data":{"values":[{}]},"mark":{"type":"rule","color":"black","strokeWidth":1.5},"encoding":{"y":{"datum":3.2,"type":"quantitative","title":"Flux density (Jy)"}}}
]
}
